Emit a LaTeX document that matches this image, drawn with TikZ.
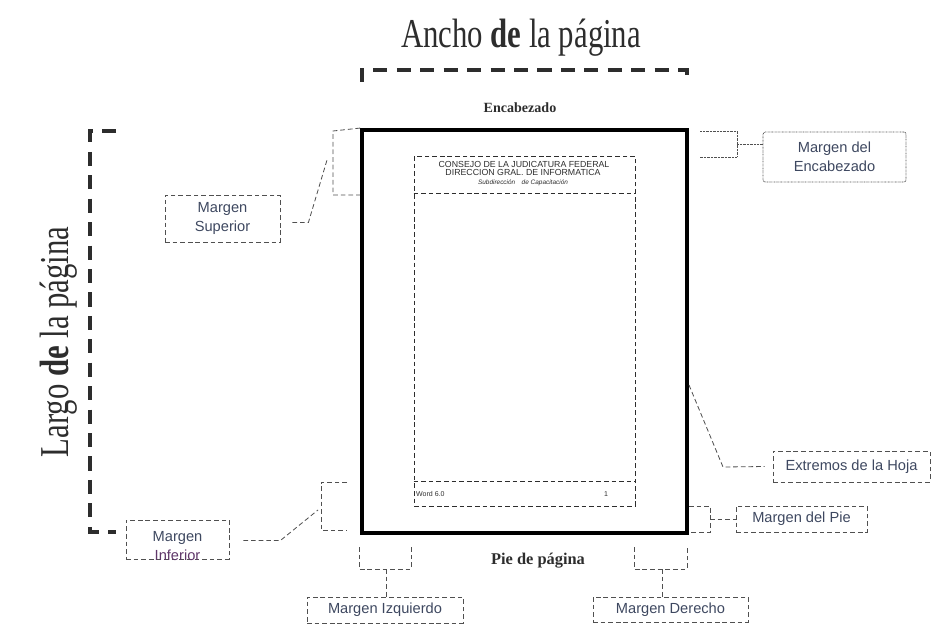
\documentclass[tikz,border=0pt]{standalone}
\usepackage{fontspec}
\usepackage{graphicx}
\setmainfont{Liberation Serif}
\newfontfamily\arialfont{Liberation Sans}
\usetikzlibrary{calc}

\definecolor{boxtext}{RGB}{62,72,96}
\definecolor{boxline}{RGB}{80,80,80}
\definecolor{dimgray}{RGB}{45,45,45}

\begin{document}
\begin{tikzpicture}[x=0.3mm, y=-0.3mm,
        page_style/.style={draw=black, line width=3.3pt, inner sep=0pt},
        area_style/.style={draw=dimgray, line width=0.8pt, dash pattern=on 4pt off 2.5pt, inner sep=0pt},
        box_style/.style={draw=boxline, line width=0.7pt, dash pattern=on 4pt off 2.5pt, font=\arialfont\fontsize{12.5}{16}\selectfont, text=boxtext, align=center, inner sep=0pt},
        dotbox_style/.style={box_style, dash pattern=on 0.6pt off 0.6pt, rounded corners=2pt},
        lead_style/.style={draw=boxline, line width=0.7pt, dash pattern=on 4pt off 2.5pt},
        dotlead_style/.style={draw=boxline, line width=0.7pt, dash pattern=on 0.6pt off 0.6pt},
        dim_style/.style={draw=dimgray, line width=3pt, dash pattern=on 12pt off 8pt},
        title_style/.style={font=\fontsize{35}{35}\selectfont, text=dimgray, inner sep=0pt},
        bold_style/.style={font=\bfseries\fontsize{12}{12}\selectfont, text=dimgray, inner sep=0pt},
        hdr_style/.style={font=\arialfont\fontsize{7.5}{7.5}\selectfont, text=dimgray, inner sep=0pt},
        small_style/.style={font=\arialfont\fontsize{6}{6}\selectfont, text=dimgray, inner sep=0pt}]

    \useasboundingbox (0,0) rectangle (932,627);

    % titulos
    \node [title_style] (ancho) at (521,38) {\scalebox{0.75}[1]{Ancho \textbf{de} la página}};
    \node [title_style, rotate=90] (largo) at (59,342) {\scalebox{0.75}[1]{Largo \textbf{de} la página}};
    \node [bold_style] (encabezado) at (520,108) {Encabezado};
    \node [bold_style, font=\bfseries\fontsize{14}{14}\selectfont] (piepag) at (538,561) {Pie de página};

    % hoja y area de texto
    \node [page_style, minimum width=97.5mm, minimum height=120.9mm] (hoja) at (524.5,331.5) {};
    \node [area_style, minimum width=66.3mm, minimum height=105mm] (area) at (524.5,331) {};
    \draw [area_style] (area.west |- 0,193) -- (area.east |- 0,193);
    \draw [area_style] (area.west |- 0,481) -- (area.east |- 0,481);

    \node [hdr_style] (consejo) at (524,164) {CONSEJO DE LA JUDICATURA FEDERAL};
    \node [hdr_style] (direccion) at (523,172) {DIRECCION GRAL. DE INFORMATICA};
    \node [small_style, font=\arialfont\itshape\fontsize{5.5}{5.5}\selectfont] (subdir) at (523,183) {Subdirección\quad de Capacitación};
    \node [small_style, anchor=west] (word) at (416,494) {Word 6.0};
    \node [small_style] (num) at (606,494) {1};

    % cotas
    \coordinate (anchoL) at (362,82);
    \coordinate (anchoR) at (687,82);
    \draw [dim_style] (anchoL) -- (362,70) -- (687,70) -- (anchoR);
    \coordinate (largoT) at (116,131);
    \coordinate (largoB) at (116,532);
    \draw [dim_style] (largoT) -- (90,131) -- (90,532) -- (largoB);

    % etiquetas
    \node [box_style, minimum width=34.5mm, minimum height=14.1mm] (sup) at (222.5,218.5) {Margen\\Superior};
    \node [box_style, minimum width=30.9mm, minimum height=11.7mm] (inf) at (177.5,539.5) {};
    \node [box_style, draw=none, text=boxtext] (inftxt) at (177.5,546) {Margen\\\textcolor[RGB]{95,55,105}{Inferior}};
    \node [dotbox_style, minimum width=42.9mm, minimum height=15mm] (enc) at (834.5,157) {Margen del\\Encabezado};
    \node [box_style, minimum width=47.1mm, minimum height=9.3mm] (ext) at (851.5,466.5) {Extremos de la Hoja};
    \node [box_style, minimum width=39.3mm, minimum height=7.8mm] (pie) at (801.5,519) {Margen del Pie};
    \node [box_style, minimum width=46.8mm, minimum height=7.8mm] (izq) at (385,610) {Margen Izquierdo};
    \node [box_style, minimum width=46.5mm, minimum height=7.5mm] (der) at (670.5,609.5) {Margen Derecho};

    % margen superior
    \coordinate (supT) at (333,131);
    \coordinate (supB) at (333,195);
    \coordinate (supM) at (327,160);
    \draw [lead_style] (hoja.north west) -- (supT) -- (supB) -- (supB -| hoja.west);
    \draw [lead_style] ($(sup.east)+(12,4)$) -- ++(16,0) -- (supM);

    % margen inferior
    \coordinate (infT) at (321,482);
    \coordinate (infB) at (321,530);
    \coordinate (infM) at (318,510);
    \draw [lead_style] (347,482) -- (infT) -- (infB) -- (347,530);
    \draw [lead_style] ($(inf.east)+(14,1)$) -- ++(37,0) -- (infM);

    % margen del encabezado
    \coordinate (encT) at (737,131);
    \coordinate (encB) at (737,157);
    \coordinate (encM) at (737,144);
    \draw [dotlead_style] (700,131) -- (encT) -- (encB) -- (700,157);
    \draw [dotlead_style] (encM) -- (encM -| enc.west);

    % extremos de la hoja
    \coordinate (extP) at (689,385);
    \draw [lead_style] (extP) -- (723,467) -- ($(ext.west)+(-8,0)$);

    % margen del pie
    \coordinate (pieT) at (710,506);
    \coordinate (pieB) at (710,532);
    \coordinate (pieM) at (710,519);
    \draw [lead_style] (689,506) -- (pieT) -- (pieB) -- (689,532);
    \draw [lead_style] (pieM) -- (pie.west);

    % margen izquierdo
    \coordinate (izqM) at (386,569);
    \draw [lead_style] (359,547) -- (359,569) -- (411,569) -- (411,547);
    \draw [lead_style] (izqM) -- (izqM |- izq.north);

    % margen derecho
    \coordinate (derM) at (662,569);
    \draw [lead_style] (634,547) -- (634,569) -- (687,569) -- (687,547);
    \draw [lead_style] (derM) -- (derM |- der.north);

\end{tikzpicture}
\end{document}
